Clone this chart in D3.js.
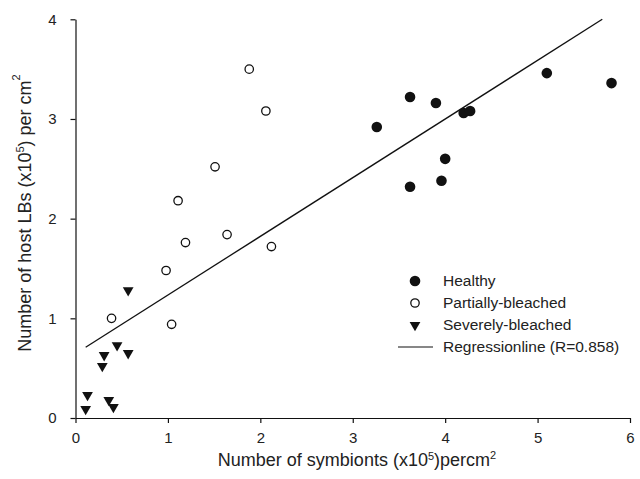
<!DOCTYPE html>
<html>
<head>
<meta charset="utf-8">
<script src="https://cdn.jsdelivr.net/npm/d3@7"></script>
<style>
  body { margin: 0; background: #fff; }
  svg text { font-family: Arial, "Liberation Sans", Helvetica, sans-serif; fill: #222; }
  .axis path, .axis line { stroke: #111; stroke-width: 1.2; }
</style>
</head>
<body>
<div id="chart"></div>
<script>
// Healthy colonies (filled circles)
const healthyX = [3.26, 3.62, 3.90, 4.20, 4.27, 4.00, 3.96, 3.62, 5.10, 5.80];
const healthyY = [2.92, 3.22, 3.16, 3.06, 3.08, 2.60, 2.38, 2.32, 3.46, 3.36];

// Partially-bleached (open circles)
const partialX = [1.88, 2.06, 1.51, 1.11, 1.64, 1.19, 0.98, 2.12, 1.04, 0.39];
const partialY = [3.50, 3.08, 2.52, 2.18, 1.84, 1.76, 1.48, 1.72, 0.94, 1.00];

// Severely-bleached (down triangles)
const severeX = [0.57, 0.45, 0.57, 0.31, 0.29, 0.13, 0.11, 0.36, 0.41];
const severeY = [1.28, 0.73, 0.65, 0.63, 0.52, 0.23, 0.09, 0.18, 0.11];

// Regression line end points
const regX = [0.11, 5.70];
const regY = [0.71, 4.00];

const xTicks = [0, 1, 2, 3, 4, 5, 6];
const yTicks = [0, 1, 2, 3, 4];

const legendLabels = ["Healthy", "Partially-bleached", "Severely-bleached", "Regressionline (R=0.858)"];

const width = 640, height = 479;

const svg = d3.select("#chart").append("svg")
    .attr("width", width)
    .attr("height", height);

const x = d3.scaleLinear().domain([0, 6]).range([75.5, 630]);
const y = d3.scaleLinear().domain([0, 4]).range([418, 19.3]);

// axes
svg.append("g")
    .attr("class", "axis")
    .attr("transform", "translate(0," + y(0) + ")")
    .call(d3.axisBottom(x).tickValues(xTicks).tickSize(5).tickSizeOuter(0).tickPadding(9).tickFormat(d3.format("d")))
    .call(g => g.selectAll("text").style("font-size", "15px").attr("fill", "#222"));

svg.append("g")
    .attr("class", "axis")
    .attr("transform", "translate(" + x(0) + ",0)")
    .call(d3.axisLeft(y).tickValues(yTicks).tickSize(5).tickSizeOuter(0).tickPadding(14).tickFormat(d3.format("d")))
    .call(g => g.selectAll("text").style("font-size", "15px").attr("fill", "#222"));

// axis titles
const xTitle = svg.append("text")
    .attr("x", 357)
    .attr("y", 466)
    .attr("text-anchor", "middle")
    .style("font-size", "18px");
xTitle.append("tspan").text("Number of symbionts (x10");
xTitle.append("tspan").attr("dy", -6).style("font-size", "11px").text("5");
xTitle.append("tspan").attr("dy", 6).text(")percm");
xTitle.append("tspan").attr("dy", -7).style("font-size", "11px").text("2");

const yTitle = svg.append("text")
    .attr("transform", "translate(31,213) rotate(-90)")
    .attr("text-anchor", "middle")
    .style("font-size", "18px");
yTitle.append("tspan").text("Number of host LBs (x10");
yTitle.append("tspan").attr("dy", -7).style("font-size", "11px").text("5");
yTitle.append("tspan").attr("dy", 7).text(") per cm");
yTitle.append("tspan").attr("dy", -11).style("font-size", "11px").text("2");

// regression line
const line = d3.line().x(d => x(d[0])).y(d => y(d[1]));
svg.append("path")
    .datum(d3.zip(regX, regY))
    .attr("d", line)
    .attr("fill", "none")
    .attr("stroke", "#111")
    .attr("stroke-width", 1.3);

// points
const tri = d3.symbol().type(d3.symbolTriangle).size(50);

svg.append("g").selectAll("path")
    .data(d3.zip(severeX, severeY))
    .join("path")
    .attr("d", tri)
    .attr("transform", d => "translate(" + x(d[0]) + "," + y(d[1]) + ") rotate(180)")
    .attr("fill", "#111");

svg.append("g").selectAll("circle")
    .data(d3.zip(partialX, partialY))
    .join("circle")
    .attr("cx", d => x(d[0]))
    .attr("cy", d => y(d[1]))
    .attr("r", 4.2)
    .attr("fill", "#fff")
    .attr("stroke", "#111")
    .attr("stroke-width", 1.3);

svg.append("g").selectAll("circle")
    .data(d3.zip(healthyX, healthyY))
    .join("circle")
    .attr("cx", d => x(d[0]))
    .attr("cy", d => y(d[1]))
    .attr("r", 5.3)
    .attr("fill", "#111");

// legend
const legend = svg.append("g").attr("transform", "translate(415,281)");
const rowH = 22;
legendLabels.forEach((label, i) => {
    const row = legend.append("g").attr("transform", "translate(0," + i * rowH + ")");
    if (i === 0) {
        row.append("circle").attr("r", 5.3).attr("fill", "#111");
    } else if (i === 1) {
        row.append("circle").attr("r", 4.2).attr("fill", "#fff").attr("stroke", "#111").attr("stroke-width", 1.3);
    } else if (i === 2) {
        row.append("path").attr("d", tri).attr("transform", "rotate(180)").attr("fill", "#111");
    } else {
        row.append("line").attr("x1", -17).attr("x2", 18).attr("stroke", "#111").attr("stroke-width", 1.2);
    }
    row.append("text")
        .attr("x", 28)
        .attr("dy", "0.35em")
        .style("font-size", "15.5px")
        .text(label);
});
</script>
</body>
</html>
